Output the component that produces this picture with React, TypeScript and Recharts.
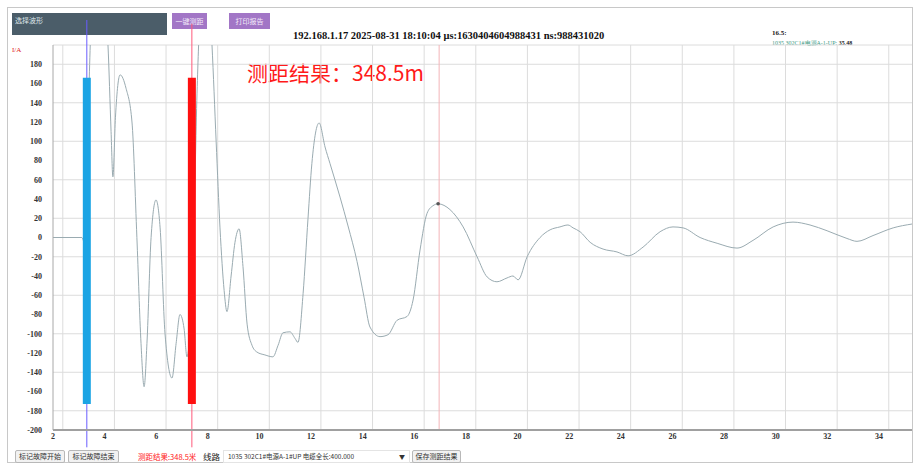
import { FC } from 'react';
import {
  CartesianGrid,
  Line,
  LineChart,
  ReferenceDot,
  ReferenceLine,
  XAxis,
  YAxis,
} from 'recharts';

// waveform samples (distance, current)
const distance = [
  2.0, 3.12, 3.2, 3.3, 3.42, 3.55, 3.8, 4.02, 4.13, 4.25, 4.32, 4.42, 4.6, 4.83, 5.06, 5.25,
  5.41, 5.53, 5.64, 5.8, 5.99, 6.15, 6.34, 6.61, 6.77, 6.92, 7.08, 7.19, 7.3, 7.45, 7.58, 7.7,
  7.9, 8.08, 8.16, 8.32, 8.47, 8.63, 8.74, 8.9, 9.05, 9.21, 9.36, 9.52, 9.71, 9.9, 10.21, 10.52,
  10.72, 10.91, 11.18, 11.38, 11.49, 11.69, 11.88, 12.03, 12.31, 12.54, 12.73, 13.12, 13.43,
  13.78, 14.05, 14.28, 14.67, 14.98, 15.33, 15.72, 15.95, 16.22, 16.49, 16.72, 16.92, 17.38,
  17.89, 18.43, 18.82, 19.2, 19.59, 19.82, 20.02, 20.37, 20.87, 21.26, 21.64, 21.95, 22.15,
  22.42, 22.81, 23.31, 23.85, 24.28, 24.86, 25.52, 26.02, 26.41, 27.07, 27.73, 28.5, 29.12,
  29.9, 30.67, 31.33, 31.99, 32.76, 33.15, 33.77, 34.55, 35.28,
];
const current = [
  0, 0, -4, 40, 180, 260, 285, 245, 200, 110, 63, 125, 169, 155, 120, 0,
  -110, -155, -110, 0, 39, 10, -100, -146, -110, -80, -95, -124, -100, 0, 150, 230,
  260, 240, 200, 100, 10, -55, -77, -40, -5, 9, -30, -90, -112, -119, -122, -124,
  -112, -99, -98, -105, -109, -58, 20, 77, 119, 94, 77, 42, 12,
  -25, -62, -93, -103, -101, -86, -82, -65, -13, 25, 33, 35, 29,
  11, -20, -41, -46, -42, -40, -44, -20, 0, 8, 11, 13, 10,
  6, -5, -12, -15, -19, -10, 6, 11, 10, 0, -6, -11, -3,
  11, 16, 13, 7, -1, -4, 2, 10, 14,
];

const xTicks = [2, 4, 6, 8, 10, 12, 14, 16, 18, 20, 22, 24, 26, 28, 30, 32, 34];
const yTicks = [-200, -180, -160, -140, -120, -100, -80, -60, -40, -20, 0, 20, 40, 60, 80, 100, 120, 140, 160, 180];

// fault markers and measured peak
const faultStart = 3.31;
const faultEnd = 7.38;
const markerRange = [-173, 166];
const peak = { x: 16.92, y: 35 };
const peakLine = 16.96;

const data = distance.map((x, i) => ({ x, v: current[i] }));

const serif = "'Liberation Serif', 'DejaVu Serif', serif";
const cjk = "'Noto Sans CJK SC', 'Noto Sans', sans-serif";

const btn = (left: number, top: number, w: number, h: number, text: string) => (
  <div
    style={{
      position: 'absolute', left, top, width: w, height: h, boxSizing: 'border-box',
      border: '1px solid #b8b8b8', background: '#f2f2f2', borderRadius: 2,
      fontSize: 7, fontFamily: cjk, color: '#333', lineHeight: `${h - 2}px`, textAlign: 'center',
    }}
  >
    {text}
  </div>
);

const App: FC = () => {
  const tickStyle = { fontSize: 8, fontFamily: serif, fontWeight: 'bold', fill: '#333' };
  return (
    <div style={{ position: 'absolute', left: 0, top: 0, width: 914, height: 465, background: '#fff', overflow: 'hidden' }}>
      <div style={{ position: 'absolute', left: 7, top: 7, width: 906, height: 456, border: '1px solid #c8c8c8', boxSizing: 'border-box' }} />

      <div style={{ position: 'absolute', left: 12, top: 13, width: 155, height: 22, background: '#4b5d69', color: '#dfe6ea', fontSize: 7, fontFamily: cjk, padding: '2px 3px', boxSizing: 'border-box' }}>
        选择波形
      </div>
      <div style={{ position: 'absolute', left: 172, top: 13, width: 35, height: 16, background: '#a276c6', color: '#f3eaf9', fontSize: 7, fontFamily: cjk, textAlign: 'center', lineHeight: '16px' }}>
        一键测距
      </div>
      <div style={{ position: 'absolute', left: 229, top: 13, width: 41, height: 16, background: '#a276c6', color: '#f3eaf9', fontSize: 7, fontFamily: cjk, textAlign: 'center', lineHeight: '16px' }}>
        打印报告
      </div>

      <div style={{ position: 'absolute', left: 293, top: 30, fontSize: 10.5, fontWeight: 'bold', fontFamily: serif, color: '#111', whiteSpace: 'nowrap' }}>
        192.168.1.17 2025-08-31 18:10:04 μs:1630404604988431 ns:988431020
      </div>

      <div style={{ position: 'absolute', left: 772, top: 29, fontSize: 7, fontWeight: 'bold', fontFamily: serif, color: '#222' }}>16.5:</div>
      <div style={{ position: 'absolute', left: 772, top: 39, fontSize: 6, fontFamily: serif, color: '#3c9a84', whiteSpace: 'nowrap' }}>
        1035 302C1#电源A-1-UP: <b style={{ color: '#222' }}>35.48</b>
      </div>

      <div style={{ position: 'absolute', left: 12, top: 46, fontSize: 7, fontFamily: serif, color: '#e02020' }}>I/A</div>

      <div style={{ position: 'absolute', left: 247, top: 58, fontSize: 21, fontFamily: cjk, color: '#ff1a1a', whiteSpace: 'nowrap', lineHeight: '28px' }}>
        测距结果：348.5m
      </div>

      <div style={{ position: 'absolute', left: 0, top: 0 }}>
        <LineChart width={914} height={465} data={data} margin={{ top: 45, right: 2, bottom: 15, left: 33 }}>
          <CartesianGrid vertical={false} stroke="#dcdcdc" />
          {xTicks.map((t) => (
            <ReferenceLine key={t} x={t + 0.38} stroke="#dcdcdc" ifOverflow="hidden" />
          ))}
          <XAxis
            type="number"
            dataKey="x"
            domain={[2, 35.28]}
            ticks={xTicks}
            allowDataOverflow
            height={20}
            tickLine={false}
            tickSize={0}
            tickMargin={3}
            stroke="#a0a0a0"
            strokeWidth={2}
            tick={tickStyle}
          />
          <YAxis
            type="number"
            domain={[-200, 200]}
            ticks={yTicks}
            allowDataOverflow
            width={20}
            tickLine={false}
            tickSize={6}
            tickMargin={5}
            stroke="#a8a8a8"
            tick={tickStyle}
          />
          <ReferenceLine x={peakLine} stroke="#f3b4b8" />
          <Line
            type="monotone"
            dataKey="v"
            stroke="#9aabb1"
            strokeWidth={1}
            dot={false}
            isAnimationActive={false}
          />
          <ReferenceDot x={peak.x} y={peak.y} r={1.8} fill="#555" stroke="none" />
          <ReferenceLine
            segment={[{ x: faultStart, y: 226 }, { x: faultStart, y: -218 }]}
            stroke="#6a5cff"
            strokeWidth={1}
            ifOverflow="visible"
          />
          <ReferenceLine
            segment={[{ x: faultStart, y: markerRange[0] }, { x: faultStart, y: markerRange[1] }]}
            stroke="#1ba4e4"
            strokeWidth={8}
          />
          <ReferenceLine
            segment={[{ x: faultEnd, y: 222 }, { x: faultEnd, y: -218 }]}
            stroke="#ff5a7a"
            strokeWidth={1}
            ifOverflow="visible"
          />
          <ReferenceLine
            segment={[{ x: faultEnd, y: markerRange[0] }, { x: faultEnd, y: markerRange[1] }]}
            stroke="#ff0f0f"
            strokeWidth={8}
          />
        </LineChart>
      </div>

      {btn(15, 450, 50, 13, '标记故障开始')}
      {btn(68, 450, 51, 13, '标记故障结束')}
      <div style={{ position: 'absolute', left: 138, top: 450, fontSize: 7.5, fontFamily: cjk, color: '#ff2020', lineHeight: '13px', whiteSpace: 'nowrap' }}>
        测距结果:348.5米
      </div>
      <div style={{ position: 'absolute', left: 203, top: 449, fontSize: 8.5, fontFamily: cjk, color: '#222', lineHeight: '14px' }}>线路</div>
      <div style={{ position: 'absolute', left: 223, top: 450, width: 187, height: 13, boxSizing: 'border-box', border: '1px solid #e4e4e4', fontSize: 6.5, fontFamily: cjk, color: '#333', lineHeight: '11px', paddingLeft: 4, whiteSpace: 'nowrap' }}>
        1035 302C1#电源A-1#UP 电缆全长:400.000
        <span style={{ position: 'absolute', right: 4, top: 0, fontSize: 6 }}>▼</span>
      </div>
      {btn(412, 450, 49, 13, '保存测距结果')}
    </div>
  );
};

export default App;
